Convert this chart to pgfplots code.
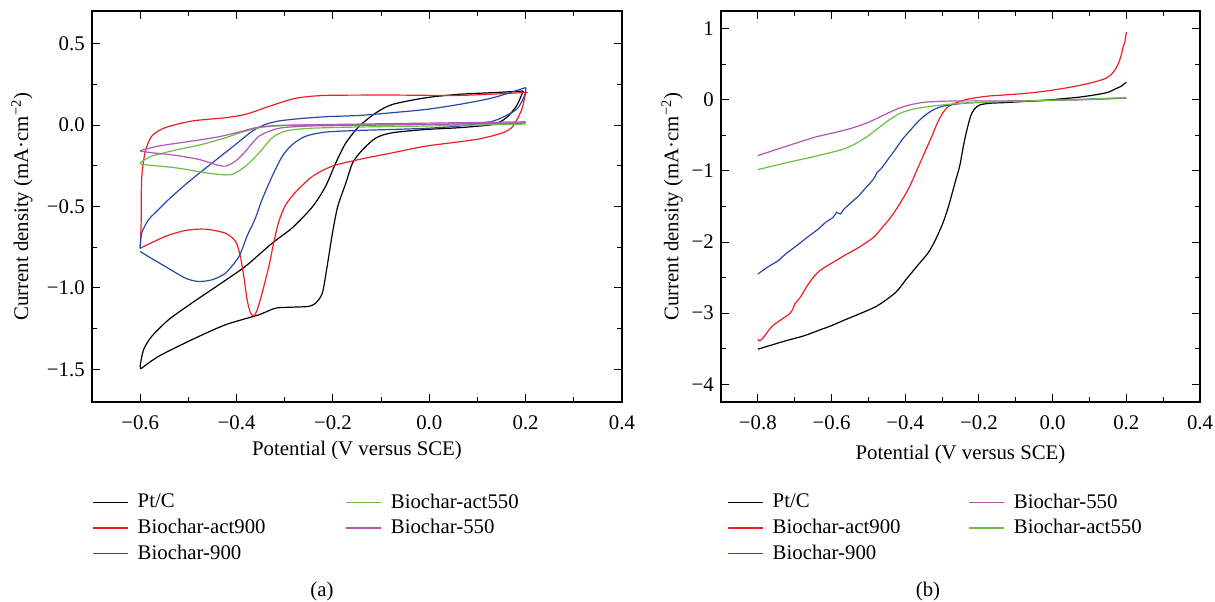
\documentclass[border=0pt]{standalone}
\usepackage{fontspec}
\setmainfont{Liberation Serif}
\usepackage{pgfplots}
\pgfplotsset{compat=1.18}
\definecolor{cred}{RGB}{238,30,36}
\definecolor{cblue}{RGB}{40,72,168}
\definecolor{cgreen}{RGB}{108,190,68}
\definecolor{cpurple}{RGB}{180,86,180}

\pgfplotsset{
  panel/.style={scale only axis, height=195.5pt, anchor=south west,
    tick align=inside, major tick length=4pt, minor tick length=2.5pt,
    every tick/.style={black, line width=0.5pt},
    axis line style={line width=0.6pt},
    every axis plot/.append style={line width=0.6pt, smooth, tension=0.45},
    xticklabel style={yshift=-3pt},
    xlabel={Potential (V versus SCE)},
    ylabel={Current density (mA·cm\textsuperscript{−2})},
    x label style={anchor=center},
    y label style={anchor=center},
    legend columns=2, legend cell align=left,
    legend style={draw=none, fill=none, inner sep=0pt, anchor=north west,
      /tikz/column 1/.style={column sep=3pt},
      /tikz/column 3/.style={column sep=3pt}},
  },
}

\begin{document}
\fontsize{10.4}{12.5}\selectfont
\begin{tikzpicture}
\useasboundingbox (0,0) rectangle (607.5pt,300.5pt);

% (a) cyclic voltammograms, each loop drawn as its two sweeps
\begin{axis}[panel, at={(46pt,99.5pt)}, width=265pt,
  xmin=-0.7, xmax=0.4, ymin=-1.7, ymax=0.7,
  xtick={-0.6,-0.4,-0.2,0,0.2,0.4}, xticklabels={−0.6,−0.4,−0.2,0.0,0.2,0.4},
  minor xtick={-0.7,-0.5,-0.3,-0.1,0.1,0.3},
  ytick={-1.5,-1,-0.5,0,0.5}, yticklabels={−1.5,−1.0,−0.5,0.0,0.5},
  minor ytick={-1.25,-0.75,-0.25,0.25},
  x label style={at={(axis description cs:0.5,-0.125)}},
  y label style={at={(axis description cs:-0.132,0.5)}},
  legend style={at={(axis description cs:0,-0.223)},
    /tikz/column 2/.style={column sep=38pt}}]
\addplot[black, forget plot] coordinates {
(0.195,0.209)(0.133,0.199)(0.063,0.189)(-0.006,0.168)(-0.076,0.127)(-0.110,0.076)
(-0.145,-0.006)(-0.173,-0.109)(-0.194,-0.232)(-0.215,-0.375)(-0.242,-0.50)
(-0.284,-0.63)(-0.326,-0.725)(-0.382,-0.868)(-0.437,-0.981)(-0.493,-1.093)
(-0.541,-1.195)(-0.576,-1.297)(-0.593,-1.379)(-0.600,-1.480)(-0.598,-1.495)};
\addplot[black, forget plot] coordinates {
(-0.598,-1.495)
(-0.562,-1.420)(-0.493,-1.318)(-0.423,-1.226)(-0.354,-1.165)(-0.319,-1.124)
(-0.284,-1.118)(-0.250,-1.113)(-0.236,-1.093)(-0.222,-1.032)(-0.212,-0.868)
(-0.201,-0.664)(-0.190,-0.50)(-0.173,-0.355)(-0.159,-0.232)(-0.138,-0.150)
(-0.110,-0.078)(-0.076,-0.047)(-0.006,-0.027)(0.063,-0.016)(0.133,0.004)
(0.160,0.045)(0.181,0.117)(0.195,0.209)};
\addplot[cred, forget plot] coordinates {
(-0.600,-0.756)(-0.598,-0.600)(-0.597,-0.334)(-0.590,-0.170)(-0.576,-0.068)
(-0.548,-0.016)(-0.492,0.025)(-0.423,0.045)(-0.381,0.066)(-0.340,0.107)
(-0.298,0.148)(-0.270,0.168)(-0.215,0.182)(-0.076,0.184)(0.063,0.182)
(0.195,0.199)(0.200,0.200)};
\addplot[cred, forget plot] coordinates {
(0.200,0.200)(0.192,0.096)(0.174,-0.006)(0.153,-0.047)(0.098,-0.088)
(-0.006,-0.129)(-0.076,-0.170)(-0.145,-0.211)(-0.201,-0.252)(-0.242,-0.314)
(-0.277,-0.410)(-0.298,-0.490)(-0.312,-0.590)(-0.323,-0.725)(-0.333,-0.868)
(-0.347,-1.032)(-0.357,-1.134)(-0.364,-1.171)(-0.371,-1.154)(-0.378,-1.073)
(-0.385,-0.929)(-0.392,-0.807)(-0.402,-0.715)(-0.423,-0.664)(-0.465,-0.639)
(-0.506,-0.647)(-0.548,-0.684)(-0.600,-0.756)};
\addplot[cblue, forget plot] coordinates {
(-0.600,-0.760)(-0.597,-0.664)(-0.583,-0.582)(-0.569,-0.539)(-0.541,-0.457)
(-0.506,-0.365)(-0.472,-0.283)(-0.437,-0.201)(-0.402,-0.119)(-0.367,-0.037)
(-0.340,0.004)(-0.312,0.025)(-0.270,0.039)(-0.215,0.051)(-0.145,0.059)
(-0.076,0.076)(-0.006,0.096)(0.063,0.127)(0.133,0.168)(0.200,0.230)};
\addplot[cblue, forget plot] coordinates {
(0.200,0.230)(0.199,0.190)(0.181,0.096)(0.133,0.025)(0.063,-0.006)(-0.006,-0.020)
(-0.076,-0.027)(-0.145,-0.033)(-0.215,-0.043)(-0.256,-0.068)(-0.284,-0.119)
(-0.305,-0.191)(-0.326,-0.314)(-0.347,-0.457)(-0.362,-0.580)(-0.378,-0.680)
(-0.395,-0.807)(-0.423,-0.909)(-0.451,-0.950)(-0.479,-0.960)(-0.506,-0.940)
(-0.548,-0.868)(-0.583,-0.807)(-0.600,-0.776)};
\addplot[cgreen, forget plot] coordinates {
(-0.600,-0.235)(-0.597,-0.225)(-0.576,-0.191)(-0.527,-0.154)(-0.472,-0.119)
(-0.423,-0.078)(-0.388,-0.043)(-0.353,-0.016)(-0.319,-0.006)(-0.284,-0.002)
(-0.145,0.002)(-0.006,0.004)(0.200,0.014)};
\addplot[cgreen, forget plot] coordinates {
(0.200,0.006)(-0.006,-0.006)
(-0.145,-0.012)(-0.249,-0.020)(-0.298,-0.037)(-0.326,-0.078)(-0.353,-0.170)
(-0.381,-0.252)(-0.409,-0.303)(-0.437,-0.303)(-0.472,-0.289)(-0.527,-0.262)
(-0.576,-0.248)(-0.597,-0.242)(-0.600,-0.235)};
\addplot[cpurple, forget plot] coordinates {
(-0.600,-0.157)(-0.562,-0.129)(-0.492,-0.098)(-0.437,-0.072)(-0.395,-0.043)
(-0.360,-0.016)(-0.333,-0.006)(-0.284,0.000)(-0.145,0.006)(0.200,0.020)};
\addplot[cpurple, forget plot] coordinates {
(0.200,0.012)(-0.145,-0.002)(-0.249,-0.006)(-0.312,-0.020)(-0.353,-0.068)
(-0.381,-0.160)(-0.402,-0.221)(-0.423,-0.252)(-0.444,-0.242)(-0.478,-0.211)
(-0.527,-0.186)(-0.576,-0.170)(-0.600,-0.160)};
\addlegendimage{black, line width=0.6pt}\addlegendentry{Pt/C}
\addlegendimage{cgreen, line width=0.6pt}\addlegendentry{Biochar-act550}
\addlegendimage{cred, line width=0.6pt}\addlegendentry{Biochar-act900}
\addlegendimage{cpurple, line width=0.6pt}\addlegendentry{Biochar-550}
\addlegendimage{cblue, line width=0.6pt}\addlegendentry{Biochar-900}
\end{axis}

% (b) linear sweep voltammograms
\begin{axis}[panel, at={(360.5pt,99.5pt)}, width=239.5pt,
  xmin=-0.9, xmax=0.4, ymin=-4.25, ymax=1.25,
  xtick={-0.8,-0.6,-0.4,-0.2,0,0.2,0.4}, xticklabels={−0.8,−0.6,−0.4,−0.2,0.0,0.2,0.4},
  minor xtick={-0.9,-0.7,-0.5,-0.3,-0.1,0.1,0.3},
  ytick={-4,-3,-2,-1,0,1}, yticklabels={−4,−3,−2,−1,0,1},
  minor ytick={-3.5,-2.5,-1.5,-0.5,0.5},
  x label style={at={(axis description cs:0.5,-0.133)}},
  y label style={at={(axis description cs:-0.102,0.5)}},
  legend style={at={(axis description cs:0.0125,-0.223)},
    /tikz/column 2/.style={column sep=32pt}}]
\addplot[black, forget plot] coordinates {
(-0.800,-3.507)(-0.725,-3.390)(-0.675,-3.319)(-0.626,-3.225)(-0.601,-3.178)
(-0.566,-3.099)(-0.526,-3.014)(-0.476,-2.897)(-0.426,-2.709)(-0.397,-2.521)
(-0.367,-2.333)(-0.337,-2.146)(-0.317,-1.958)(-0.297,-1.723)(-0.282,-1.488)
(-0.272,-1.300)(-0.262,-1.113)(-0.252,-0.925)(-0.242,-0.643)(-0.232,-0.408)
(-0.222,-0.221)(-0.212,-0.127)(-0.197,-0.070)(-0.168,-0.047)(-0.128,-0.038)
(-0.078,-0.023)(-0.028,-0.009)(0.022,0.014)(0.072,0.038)(0.121,0.075)
(0.151,0.108)(0.171,0.155)(0.186,0.192)(0.200,0.249)};
\addplot[cred, forget plot] coordinates {
(-0.800,-3.366)(-0.795,-3.390)(-0.785,-3.343)(-0.775,-3.272)(-0.760,-3.178)
(-0.735,-3.085)(-0.715,-3.014)(-0.705,-2.944)(-0.700,-2.873)(-0.685,-2.779)
(-0.666,-2.615)(-0.646,-2.474)(-0.626,-2.380)(-0.596,-2.286)(-0.566,-2.192)
(-0.526,-2.075)(-0.486,-1.934)(-0.466,-1.817)(-0.436,-1.629)(-0.407,-1.394)
(-0.387,-1.207)(-0.367,-0.972)(-0.347,-0.737)(-0.327,-0.502)(-0.312,-0.315)
(-0.297,-0.174)(-0.282,-0.089)(-0.257,-0.033)(-0.227,0.014)(-0.177,0.052)
(-0.128,0.070)(-0.078,0.089)(-0.028,0.117)(0.022,0.155)(0.072,0.202)
(0.111,0.249)(0.141,0.296)(0.161,0.366)(0.176,0.484)(0.186,0.624)
(0.191,0.742)(0.196,0.812)(0.200,0.953)};
\addplot[cblue, forget plot] coordinates {
(-0.800,-2.451)(-0.775,-2.357)(-0.745,-2.263)(-0.725,-2.169)(-0.695,-2.052)
(-0.666,-1.934)(-0.636,-1.817)(-0.616,-1.723)(-0.596,-1.653)(-0.586,-1.582)
(-0.576,-1.606)(-0.566,-1.535)(-0.546,-1.441)(-0.526,-1.347)(-0.506,-1.230)
(-0.486,-1.113)(-0.476,-1.019)(-0.466,-0.972)(-0.446,-0.831)(-0.426,-0.690)
(-0.407,-0.549)(-0.387,-0.432)(-0.367,-0.315)(-0.347,-0.221)(-0.327,-0.150)
(-0.307,-0.103)(-0.277,-0.070)(-0.227,-0.042)(-0.128,-0.023)(-0.028,-0.009)
(0.072,0.005)(0.200,0.028)};
\addplot[cpurple, forget plot] coordinates {
(-0.800,-0.784)(-0.745,-0.690)(-0.695,-0.606)(-0.646,-0.526)(-0.596,-0.465)
(-0.546,-0.399)(-0.506,-0.329)(-0.476,-0.258)(-0.446,-0.183)(-0.417,-0.117)
(-0.387,-0.070)(-0.347,-0.033)(-0.297,-0.019)(-0.227,-0.014)(-0.128,-0.014)
(-0.028,-0.009)(0.072,0.000)(0.200,0.023)};
\addplot[cgreen, forget plot] coordinates {
(-0.800,-0.981)(-0.755,-0.925)(-0.705,-0.864)(-0.656,-0.808)(-0.606,-0.746)
(-0.566,-0.690)(-0.536,-0.620)(-0.506,-0.526)(-0.476,-0.408)(-0.446,-0.291)
(-0.417,-0.197)(-0.387,-0.141)(-0.347,-0.103)(-0.297,-0.070)(-0.227,-0.042)
(-0.128,-0.023)(-0.028,-0.009)(0.072,0.005)(0.200,0.033)};
\addlegendimage{black, line width=0.6pt}\addlegendentry{Pt/C}
\addlegendimage{cpurple, line width=0.6pt}\addlegendentry{Biochar-550}
\addlegendimage{cred, line width=0.6pt}\addlegendentry{Biochar-act900}
\addlegendimage{cgreen, line width=0.6pt}\addlegendentry{Biochar-act550}
\addlegendimage{cblue, line width=0.6pt}\addlegendentry{Biochar-900}
\end{axis}

\node at (161pt,5pt) {(a)};
\node at (464pt,5pt) {(b)};
\end{tikzpicture}
\end{document}
